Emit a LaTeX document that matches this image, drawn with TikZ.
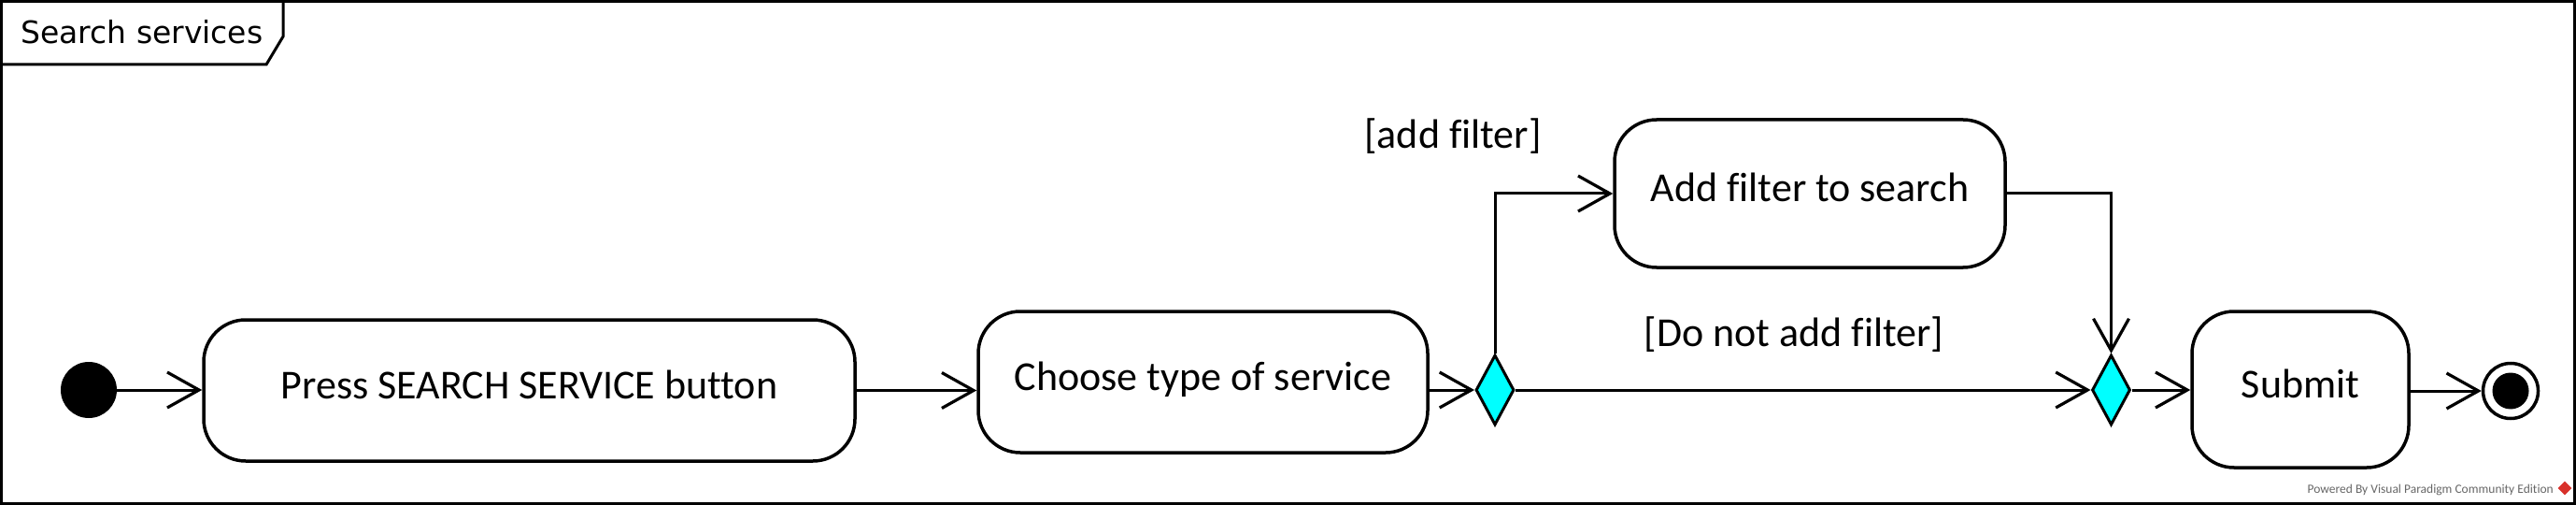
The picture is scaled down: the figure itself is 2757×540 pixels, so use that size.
\documentclass[tikz,border=0pt]{standalone}
\usepackage{fontspec}
\setmainfont{Carlito}[Ligatures=NoCommon]
\newfontfamily\titlefont{DejaVu Sans}
\usetikzlibrary{arrows.meta,shapes.geometric}
\definecolor{dcyan}{HTML}{00FFFF}
\definecolor{vpred}{HTML}{D8312B}
\tikzset{
  act/.style={draw, line width=3.5pt, rounded corners=45pt, inner sep=0pt,
    font=\fontsize{44}{50}\selectfont, text height=30pt, text depth=12pt, align=center},
  guard/.style={font=\fontsize{44}{50}\selectfont, inner sep=0pt},
  decis/.style={diamond, draw, line width=3pt, fill=dcyan, inner sep=0pt,
    minimum width=41pt, minimum height=75pt},
  arr/.style={line width=3pt, -{Straight Barb[length=34pt,width=38pt,line width=3.2pt]}},
}
\begin{document}
\begin{tikzpicture}[x=1pt,y=-1pt]
\useasboundingbox (0,0) rectangle (2757,540);
% frame
\draw[line width=3pt] (1.5,1.5) rectangle (2755.5,538.5);
\draw[line width=3pt] (1.5,69) -- (285,69) -- (303,39) -- (303,1.5);
\node[anchor=base west, inner sep=0pt, font=\titlefont\fontsize{33}{40}\selectfont] (title) at (22,47) {Search services};
% nodes
\node[circle, fill=black, minimum size=60pt, inner sep=0pt] (init) at (95,417) {};
\node[act, minimum width=697pt, minimum height=151pt] (press) at (566.5,417.5) {Press SEARCH SERVICE button};
\node[act, minimum width=481pt, minimum height=151pt] (choose) at (1287.5,408.5) {Choose type of service};
\node[decis] (d1) at (1600,417) {};
\node[act, minimum width=418pt, minimum height=158pt] (addf) at (1937,207) {Add filter to search};
\node[decis] (d2) at (2259.5,417) {};
\node[act, minimum width=232pt, minimum height=167pt] (submit) at (2462,416.5) {Submit};
\node[circle, draw, line width=3.5pt, minimum size=59pt, inner sep=0pt] (final) at (2687,418) {};
\node[circle, fill=black, minimum size=39pt, inner sep=0pt] (finalin) at (final.center) {};
% guards
\node[guard, anchor=base] (g1) at (1555,159) {[add filter]};
\node[guard, anchor=base] (g2) at (1920,370) {[Do not add filter]};
% connectors
\draw[arr] (init.east) -- (press.west |- init.east);
\draw[arr] (press.east) -- (press.east -| choose.west);
\draw[arr] (choose.east |- d1.west) -- (d1.west);
\draw[arr] (d1.north) |- (addf.west);
\draw[arr] (addf.east) -| (d2.north);
\draw[arr] (d1.east) -- (d2.west);
\draw[arr] (d2.east) -- (submit.west |- d2.east);
\draw[arr] (submit.east |- final.west) -- (final.west);
% watermark
\node[anchor=base east, inner sep=0pt, text=black!60, font=\fontsize{13.5}{15}\selectfont] (wm) at (2733,527) {Powered By Visual Paradigm Community Edition};
\node[diamond, fill=vpred, minimum size=15pt, inner sep=0pt] (wmicon) at (2745,522) {};
\end{tikzpicture}
\end{document}
